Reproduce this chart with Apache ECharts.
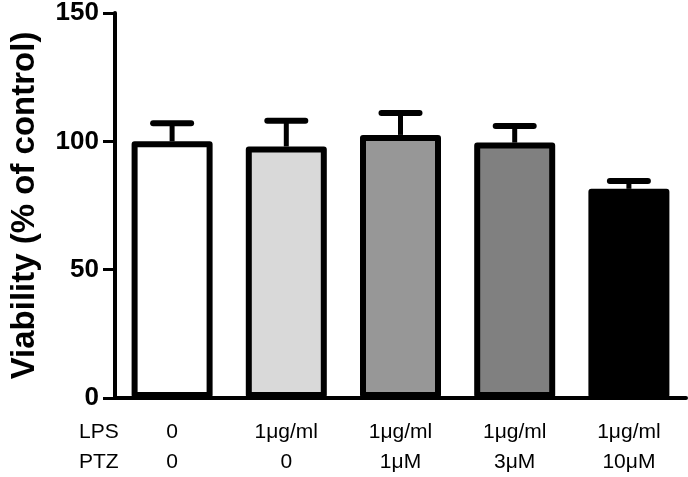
<!DOCTYPE html>
<html>
<head>
<meta charset="utf-8">
<script src="https://cdn.jsdelivr.net/npm/echarts@6/dist/echarts.min.js"></script>
<style>
  html, body { margin: 0; padding: 0; background: #fff; }
  #chart { width: 688px; height: 477px; }
</style>
</head>
<body>
<div id="chart"></div>
<script>
// treatment groups
const lpsLabels = ['0', '1μg/ml', '1μg/ml', '1μg/ml', '1μg/ml'];
const ptzLabels = ['0', '0', '1μM', '3μM', '10μM'];
const viability = [100, 98, 102.5, 99.5, 81.5];
const sem = [7, 10, 8.5, 6.5, 3];
const barColors = ['#ffffff', '#d9d9d9', '#979797', '#808080', '#000000'];
const yTicks = { min: 0, max: 150, interval: 50 };

const chart = echarts.init(document.getElementById('chart'));

const option = {
  animation: false,
  grid: { left: 103, right: 2, top: 11, bottom: 79 },
  xAxis: {
    type: 'category',
    data: lpsLabels.map((v, i) => i),
    axisLine: { lineStyle: { color: '#000', width: 4 } },
    axisTick: { show: false },
    axisLabel: {
      margin: 19,
      color: '#000',
      fontFamily: 'Liberation Sans',
      fontSize: 21,
      lineHeight: 30,
      formatter: (v, i) => lpsLabels[i] + '\n' + ptzLabels[i]
    }
  },
  yAxis: {
    type: 'value',
    min: yTicks.min,
    max: yTicks.max,
    interval: yTicks.interval,
    name: 'Viability (% of control)',
    nameLocation: 'middle',
    nameRotate: 90,
    nameGap: 74,
    nameTextStyle: {
      color: '#000',
      fontFamily: 'Liberation Sans',
      fontWeight: 'bold',
      fontSize: 33
    },
    axisLine: { show: true, lineStyle: { color: '#000', width: 4 } },
    axisTick: { show: true, length: 12, lineStyle: { color: '#000', width: 3 } },
    axisLabel: {
      margin: 16,
      color: '#000',
      fontFamily: 'Liberation Sans',
      fontWeight: 'bold',
      fontSize: 26
    },
    splitLine: { show: false }
  },
  series: [
    {
      type: 'bar',
      barWidth: 81,
      data: viability.map((v, i) => ({
        value: v,
        itemStyle: { color: barColors[i] }
      })),
      itemStyle: { borderColor: '#000', borderWidth: 6, borderJoin: 'round' },
      z: 2
    },
    {
      type: 'custom',
      z: 1,
      data: viability.map((v, i) => [i, v, v + sem[i]]),
      renderItem: (params, api) => {
        const base = api.coord([api.value(0), api.value(1)]);
        const top = api.coord([api.value(0), api.value(2)]);
        const half = 19;
        return {
          type: 'group',
          children: [
            { type: 'line', shape: { x1: base[0], y1: base[1], x2: top[0], y2: top[1] }, style: { stroke: '#000', lineWidth: 5 } },
            { type: 'line', shape: { x1: top[0] - half, y1: top[1], x2: top[0] + half, y2: top[1] }, style: { stroke: '#000', lineWidth: 6, lineCap: 'round' } }
          ]
        };
      }
    }
  ],
  graphic: [
    {
      type: 'text', x: 79, y: 432,
      style: { text: 'LPS', fill: '#000', font: '21px "Liberation Sans"', verticalAlign: 'middle' }
    },
    {
      type: 'text', x: 79, y: 462,
      style: { text: 'PTZ', fill: '#000', font: '21px "Liberation Sans"', verticalAlign: 'middle' }
    }
  ]
};

chart.setOption(option);
</script>
</body>
</html>
